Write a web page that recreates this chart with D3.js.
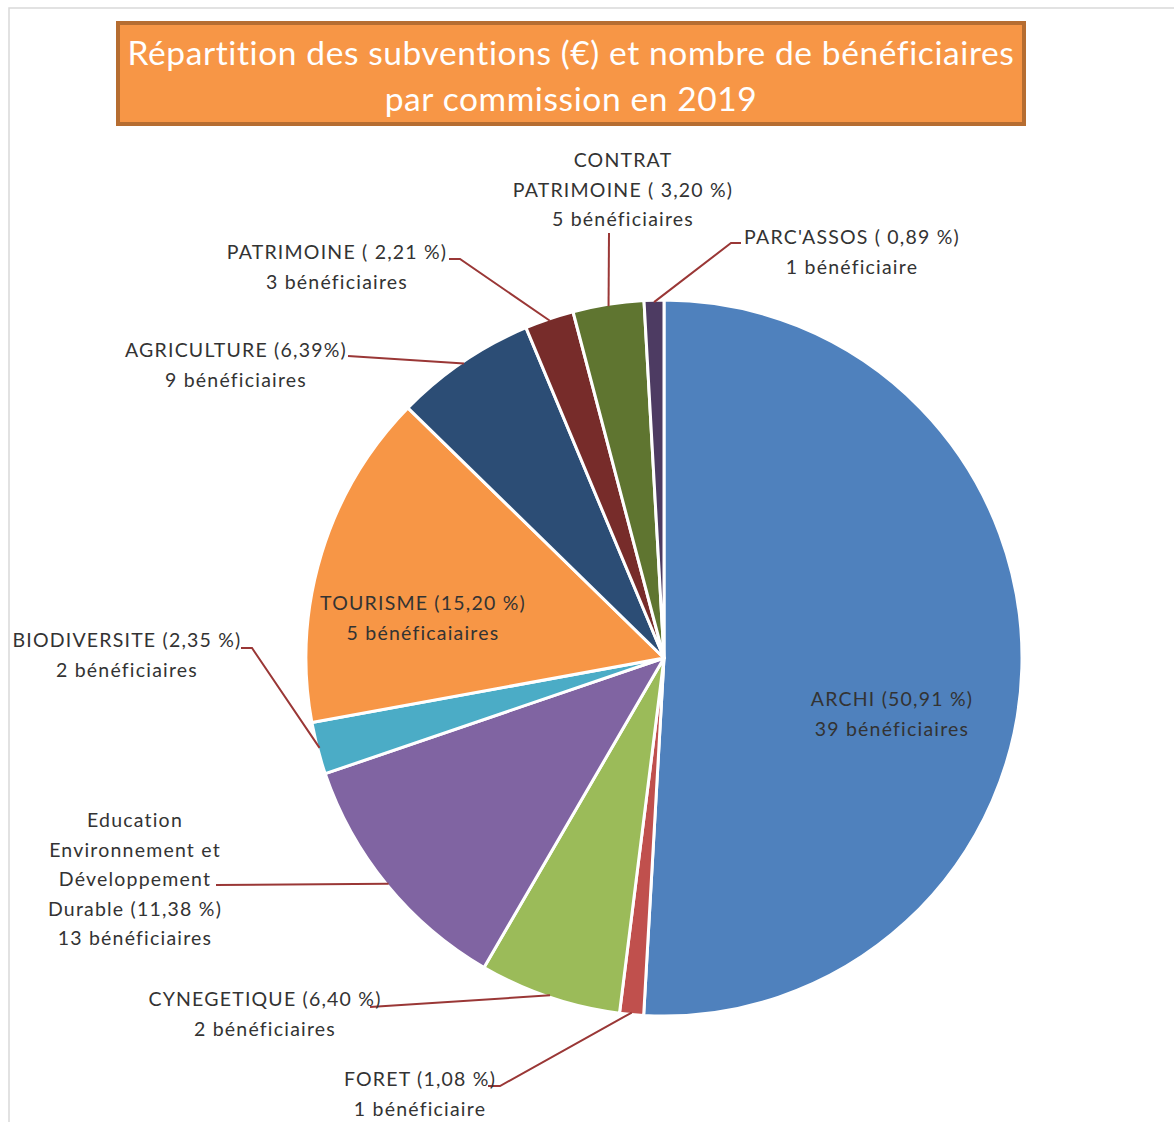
<!DOCTYPE html>
<html>
<head>
<meta charset="utf-8">
<script src="https://cdn.jsdelivr.net/npm/d3@7"></script>
<style>
  body { margin: 0; background: #fff; }
  svg text { font-family: Lato, "Open Sans", sans-serif; }
</style>
</head>
<body>
<svg width="1174" height="1122"></svg>
<script>
var svg = d3.select("svg"),
    width = +svg.attr("width"),
    height = +svg.attr("height");

// data, clockwise from 12 o'clock
var commissions = ["ARCHI", "FORET", "CYNEGETIQUE", "Education", "BIODIVERSITE",
                   "TOURISME", "AGRICULTURE", "PATRIMOINE", "CONTRAT", "PARC'ASSOS"];
var shares = [50.91, 1.08, 6.40, 11.38, 2.35, 15.20, 6.39, 2.21, 3.20, 0.89];
var labels = [
  ["ARCHI (50,91 %)", "39 bénéficiaires"],
  ["FORET (1,08 %)", "1 bénéficiaire"],
  ["CYNEGETIQUE (6,40 %)", "2 bénéficiaires"],
  ["Education", "Environnement et", "Développement", "Durable (11,38 %)", "13 bénéficiaires"],
  ["BIODIVERSITE (2,35 %)", "2 bénéficiaires"],
  ["TOURISME (15,20 %)", "5 bénéficaiaires"],
  ["AGRICULTURE (6,39%)", "9 bénéficiaires"],
  ["PATRIMOINE ( 2,21 %)", "3 bénéficiaires"],
  ["CONTRAT", "PATRIMOINE ( 3,20 %)", "5 bénéficiaires"],
  ["PARC'ASSOS ( 0,89 %)", "1 bénéficiaire"]
];
var colors = ["#4f81bd", "#c0504d", "#9bbb59", "#8064a2", "#4bacc6",
              "#f79646", "#2c4d75", "#772c2a", "#5f7530", "#4d3b62"];

// label layout: centre x, first line y, leader elbow (null = inside slice)
var labelPos = [
  {x: 892, y: 699, elbow: null},
  {x: 420, y: 1079, elbow: [[488, 1086], [500, 1086]]},
  {x: 265, y: 999, elbow: [[370, 1007]]},
  {x: 135, y: 820, elbow: [[216, 885]]},
  {x: 127, y: 640, elbow: [[241, 648], [252, 648]]},
  {x: 423, y: 603, elbow: null},
  {x: 236, y: 350, elbow: [[348, 356]]},
  {x: 337, y: 252, elbow: [[449, 259], [460, 259]]},
  {x: 623, y: 160, elbow: [[609, 233]]},
  {x: 852, y: 237, elbow: [[741, 243], [731, 243]]}
];

var cx = 664, cy = 658, radius = 358, lineH = 29.5;

// chart frame
svg.append("rect")
    .attr("x", 9).attr("y", 8)
    .attr("width", width).attr("height", height)
    .attr("fill", "none")
    .attr("stroke", "#d9d9d9")
    .attr("stroke-width", 1.5);

// title box
svg.append("rect")
    .attr("x", 118).attr("y", 23)
    .attr("width", 906).attr("height", 101)
    .attr("fill", "#f79646")
    .attr("stroke", "#b66d31")
    .attr("stroke-width", 4);

var title = svg.append("text")
    .attr("text-anchor", "middle")
    .attr("fill", "#fff")
    .attr("font-size", 33.5)
    .attr("letter-spacing", 0.6);
title.append("tspan").attr("x", 571).attr("y", 65)
    .text("Répartition des subventions (€) et nombre de bénéficiaires");
title.append("tspan").attr("x", 571).attr("y", 111)
    .text("par commission en 2019");

var pie = d3.pie().sort(null).value(function(d) { return d; });
var arc = d3.arc().innerRadius(0).outerRadius(radius);
var edge = d3.arc().innerRadius(radius - 2).outerRadius(radius - 2);

var arcs = pie(shares);

var g = svg.append("g").attr("transform", "translate(" + cx + "," + cy + ")");

g.selectAll("path")
    .data(arcs)
  .enter().append("path")
    .attr("d", arc)
    .attr("fill", function(d, i) { return colors[i]; })
    .attr("stroke", "#fff")
    .attr("stroke-width", 3)
    .attr("stroke-linejoin", "round");

// leader lines
var line = d3.line();
arcs.forEach(function(d, i) {
  var p = labelPos[i];
  if (!p.elbow) return;
  var c = edge.centroid(d);
  var pts = p.elbow.concat([[cx + c[0], cy + c[1]]]);
  svg.append("path")
      .attr("d", line(pts))
      .attr("fill", "none")
      .attr("stroke", "#9a3736")
      .attr("stroke-width", 2);
});

// labels
var lab = svg.append("g").attr("class", "labels")
  .selectAll("text")
  .data(labels)
  .enter().append("text")
    .attr("text-anchor", "middle")
    .attr("fill", "#333")
    .attr("font-size", 19.5)
    .attr("letter-spacing", 1.2);

lab.each(function(lines, i) {
  var t = d3.select(this), p = labelPos[i];
  lines.forEach(function(s, k) {
    t.append("tspan")
        .attr("x", p.x)
        .attr("y", p.y + 7 + k * lineH)
        .text(s);
  });
});
</script>
</body>
</html>
